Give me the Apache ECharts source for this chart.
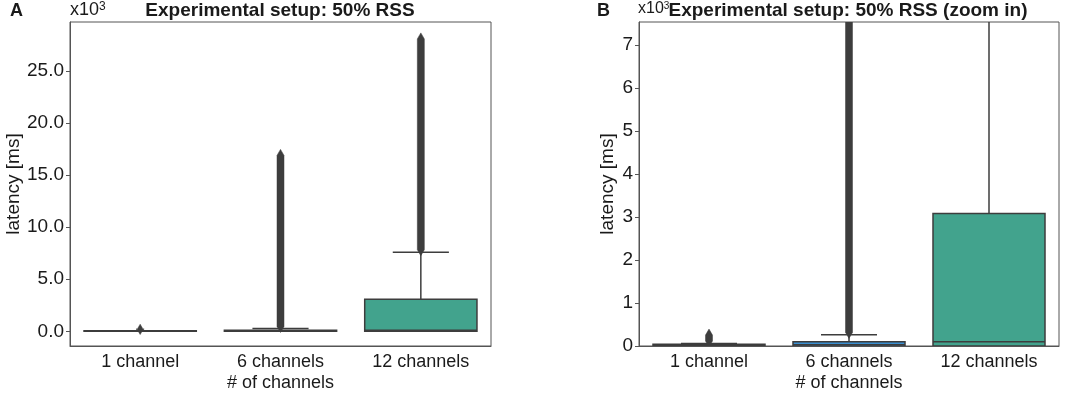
<!DOCTYPE html>
<html>
<head>
<meta charset="utf-8">
<script src="https://cdn.jsdelivr.net/npm/echarts@6/dist/echarts.min.js"></script>
<style>
  html, body { margin: 0; padding: 0; background: #fff; }
  #chart { width: 1084px; height: 395px; }
</style>
</head>
<body>
<div id="chart"></div>
<script>
// values in ms x10^3
let categories = ['1 channel', '6 channels', '12 channels'];
let whiskerLow = [0, 0, 0];
let q1 = [0.01, 0.0, 0.0];
let median = [0.02, 0.03, 0.1];
let q3 = [0.04, 0.1, 3.08];
let whiskerHigh = [0.06, 0.26, 7.6];
let outlierLow = [0.07, 0.27, 7.65];
let outlierHigh = [0.3, 17.1, 28.3];
let boxColors = ['#7a5c99', '#3b8fd0', '#42a38d'];

let ticksA = [0, 5, 10, 15, 20, 25];
let ticksB = [0, 1, 2, 3, 4, 5, 6, 7];

let font = 'Liberation Sans, Helvetica, Arial, sans-serif';
let ink = '#3d3d3d';

let boxData = categories.map((c, i) => [i, whiskerLow[i], q1[i], median[i], q3[i], whiskerHigh[i], outlierLow[i], outlierHigh[i]]);

function renderBox(params, api) {
    let i = api.value(0);
    let bw = api.size([1, 0])[0] * 0.8;
    let cx = api.coord([i, 0])[0];
    let y = k => api.coord([i, api.value(k)])[1];
    let yLo = y(1), yQ1 = y(2), yMed = y(3), yQ3 = y(4), yHi = y(5), yOl = y(6), yOh = y(7);
    let line = { stroke: ink, lineWidth: 1.5 };
    let ow = 3.5;
    let children = [
        // outlier column (densely packed diamonds)
        { type: 'polygon', shape: { points: [[cx, yOh - 4], [cx + ow, yOh + 2], [cx + ow, yOl - 2], [cx, yOl + 4], [cx - ow, yOl - 2], [cx - ow, yOh + 2]] },
          style: { fill: ink, stroke: ink, lineWidth: 0.5 } },
        { type: 'line', shape: { x1: cx, y1: yQ3, x2: cx, y2: yHi }, style: line },
        { type: 'line', shape: { x1: cx, y1: yQ1, x2: cx, y2: yLo }, style: line },
        { type: 'line', shape: { x1: cx - bw / 4, y1: yHi, x2: cx + bw / 4, y2: yHi }, style: line },
        { type: 'line', shape: { x1: cx - bw / 4, y1: yLo, x2: cx + bw / 4, y2: yLo }, style: line },
        { type: 'rect', shape: { x: cx - bw / 2, y: yQ3, width: bw, height: Math.max(yQ1 - yQ3, 0.5) },
          style: { fill: boxColors[i], stroke: ink, lineWidth: 1.5 } },
        { type: 'line', shape: { x1: cx - bw / 2, y1: yMed, x2: cx + bw / 2, y2: yMed }, style: line }
    ];
    return { type: 'group', children: children };
}

let axisText = { color: '#1a1a1a', fontSize: 18, fontFamily: font };

function makeX(idx) {
    return {
        type: 'category', gridIndex: idx, data: categories,
        name: '# of channels', nameLocation: 'middle', nameGap: 28, nameTextStyle: axisText,
        nameMoveOverlap: false,
        axisLine: { onZero: false, lineStyle: { color: '#555', width: 1 } },
        axisTick: { alignWithLabel: true, length: 4, lineStyle: { color: '#555' } },
        axisLabel: Object.assign({ margin: 7, interval: 0 }, axisText),
        splitLine: { show: false }
    };
}

function makeY(idx, min, max, ticks, digits, gap) {
    return {
        type: 'value', gridIndex: idx, min: min, max: max,
        name: 'latency [ms]', nameLocation: 'middle', nameGap: gap, nameTextStyle: Object.assign({}, axisText, { fontSize: 19 }),
        nameMoveOverlap: false,
        axisLine: { show: true, lineStyle: { color: '#555', width: 1 } },
        axisTick: { show: true, length: 4, customValues: ticks, lineStyle: { color: '#555' } },
        axisLabel: Object.assign({ margin: 6, customValues: ticks, formatter: v => Number(v).toFixed(digits) }, axisText, { fontSize: 19 }),
        splitLine: { show: false }
    };
}

function expLabel(x, big, small) {
    return {
        type: 'text', x: x, y: 1,
        style: {
            text: '{b|x10}{s|3}', fill: '#1a1a1a',
            rich: {
                b: { fontSize: big, fontFamily: font, fill: '#1a1a1a' },
                s: { fontSize: small, fontFamily: font, fill: '#1a1a1a', verticalAlign: 'top', padding: [0, 0, 6, 0] }
            }
        }
    };
}

let option = {
    animation: false,
    backgroundColor: '#fff',
    grid: [
        { left: 70, right: 593, top: 22, bottom: 49, show: true, borderColor: '#555', borderWidth: 1, outerBoundsMode: 'none', containLabel: false },
        { left: 639, right: 25, top: 22, bottom: 49, show: true, borderColor: '#555', borderWidth: 1, outerBoundsMode: 'none', containLabel: false }
    ],
    xAxis: [makeX(0), makeX(1)],
    yAxis: [makeY(0, -1.415, 29.73, ticksA, 1, 47), makeY(1, 0, 7.53, ticksB, 0, 22)],
    series: [
        { type: 'custom', xAxisIndex: 0, yAxisIndex: 0, renderItem: renderBox, data: boxData, clip: true, encode: { x: 0, y: [1, 7] } },
        { type: 'custom', xAxisIndex: 1, yAxisIndex: 1, renderItem: renderBox, data: boxData, clip: true, encode: { x: 0, y: [1, 7] } }
    ],
    graphic: [
        { type: 'text', x: 10, y: 2, style: { text: 'A', font: 'bold 18px ' + font, fill: '#1a1a1a' } },
        expLabel(70, 18, 12),
        { type: 'text', x: 280, y: 1, style: { text: 'Experimental setup: 50% RSS', font: 'bold 19px ' + font, fill: '#1a1a1a', textAlign: 'center' } },
        { type: 'text', x: 597, y: 2, style: { text: 'B', font: 'bold 18px ' + font, fill: '#1a1a1a' } },
        expLabel(638, 16, 10),
        { type: 'text', x: 848, y: 1, style: { text: 'Experimental setup: 50% RSS (zoom in)', font: 'bold 19px ' + font, fill: '#1a1a1a', textAlign: 'center' } }
    ]
};

let chart = echarts.init(document.getElementById('chart'));
chart.setOption(option);
</script>
</body>
</html>
